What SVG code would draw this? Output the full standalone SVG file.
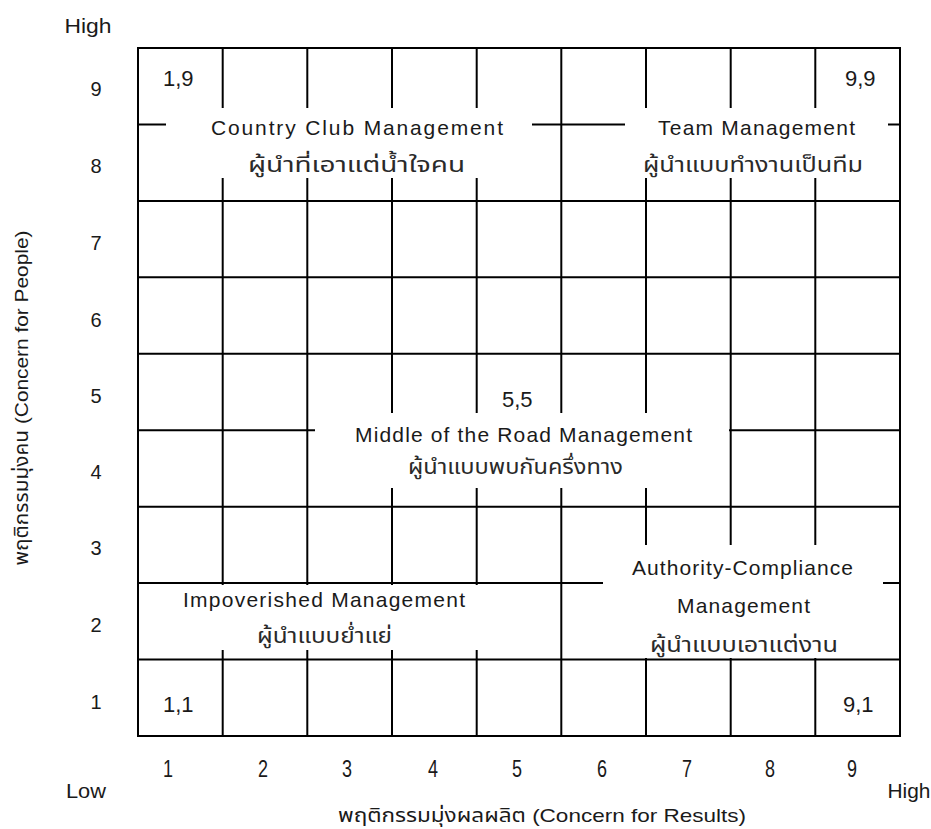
<svg xmlns="http://www.w3.org/2000/svg" width="931" height="829" viewBox="0 0 931 829">
<style>
.grid line{stroke:#000;stroke-width:2}
.box{fill:#fff;stroke:none}
text{font-family:"Liberation Sans","Noto Sans Thai","DejaVu Sans",sans-serif;fill:#1a1a1a}
.lbl{font-size:21px}
.th{font-size:21px;fill:#2a2a2a}
.corner{font-size:22px}
.ax{font-size:20px;text-anchor:middle}
.xn{font-size:23px}
</style>
<rect width="931" height="829" fill="#fff"/>
<g id="grid" class="grid">
<line x1="222.7" y1="48" x2="222.7" y2="736"/>
<line x1="307.3" y1="48" x2="307.3" y2="736"/>
<line x1="392" y1="48" x2="392" y2="736"/>
<line x1="476.7" y1="48" x2="476.7" y2="736"/>
<line x1="561.3" y1="48" x2="561.3" y2="736"/>
<line x1="646" y1="48" x2="646" y2="736"/>
<line x1="730.7" y1="48" x2="730.7" y2="736"/>
<line x1="815.3" y1="48" x2="815.3" y2="736"/>
<line x1="138" y1="124.4" x2="900" y2="124.4"/>
<line x1="138" y1="200.9" x2="900" y2="200.9"/>
<line x1="138" y1="277.3" x2="900" y2="277.3"/>
<line x1="138" y1="353.8" x2="900" y2="353.8"/>
<line x1="138" y1="430.2" x2="900" y2="430.2"/>
<line x1="138" y1="506.7" x2="900" y2="506.7"/>
<line x1="138" y1="583.1" x2="900" y2="583.1"/>
<line x1="138" y1="659.6" x2="900" y2="659.6"/>
</g>
<g id="country-club">
<rect class="box" x="166" y="108" width="366" height="70"/>
<text class="lbl" x="211" y="135" textLength="292" lengthAdjust="spacing">Country Club Management</text>
<text class="th" x="248" y="172" textLength="217" lengthAdjust="spacingAndGlyphs">ผู้นำที่เอาแต่น้ำใจคน</text>
</g>
<g id="team">
<rect class="box" x="625" y="108" width="263" height="70"/>
<text class="lbl" x="658" y="135" textLength="197" lengthAdjust="spacing">Team Management</text>
<text class="th" x="643" y="172" textLength="220" lengthAdjust="spacingAndGlyphs">ผู้นำแบบทำงานเป็นทีม</text>
</g>
<g id="middle">
<rect class="box" x="315" y="413" width="414" height="75"/>
<text class="lbl" x="355" y="442" textLength="337" lengthAdjust="spacing">Middle of the Road Management</text>
<text class="th" x="408" y="474" textLength="215" lengthAdjust="spacingAndGlyphs">ผู้นำแบบพบกันครึ่งทาง</text>
</g>
<g id="impoverished">
<rect class="box" x="140" y="585" width="416" height="65"/>
<text class="lbl" x="183" y="607" textLength="282" lengthAdjust="spacing">Impoverished Management</text>
<text class="th" x="257" y="643" textLength="135" lengthAdjust="spacingAndGlyphs">ผู้นำแบบย่ำแย่</text>
</g>
<g id="authority">
<rect class="box" x="603" y="545" width="280" height="113"/>
<text class="lbl" x="632" y="575" textLength="221" lengthAdjust="spacing">Authority-Compliance</text>
<text class="lbl" x="677" y="613" textLength="133" lengthAdjust="spacing">Management</text>
<text class="th" x="650" y="652" textLength="188" lengthAdjust="spacingAndGlyphs">ผู้นำแบบเอาแต่งาน</text>
</g>
<rect id="border" x="138" y="48" width="762" height="688" fill="none" stroke="#000" stroke-width="2"/>
<g id="corners" class="corner">
<text x="163" y="86">1,9</text>
<text x="845" y="86">9,9</text>
<text x="502" y="407">5,5</text>
<text x="163" y="712">1,1</text>
<text x="843" y="712">9,1</text>
</g>
<g id="y-axis" class="ax">
<text x="88" y="33" textLength="47" lengthAdjust="spacingAndGlyphs">High</text>
<text x="96" y="96">9</text>
<text x="96" y="173">8</text>
<text x="96" y="250">7</text>
<text x="96" y="327">6</text>
<text x="96" y="403">5</text>
<text x="96" y="479">4</text>
<text x="96" y="555">3</text>
<text x="96" y="632">2</text>
<text x="96" y="709">1</text>
<text transform="translate(28,398) rotate(-90)" textLength="335" lengthAdjust="spacingAndGlyphs" style="font-size:19px">พฤติกรรมมุ่งคน (Concern for People)</text>
</g>
<g id="x-axis" class="ax">
<text class="xn" x="168" y="777" textLength="10" lengthAdjust="spacingAndGlyphs">1</text>
<text class="xn" x="263" y="777" textLength="10" lengthAdjust="spacingAndGlyphs">2</text>
<text class="xn" x="347" y="777" textLength="10" lengthAdjust="spacingAndGlyphs">3</text>
<text class="xn" x="433" y="777" textLength="10" lengthAdjust="spacingAndGlyphs">4</text>
<text class="xn" x="517" y="777" textLength="10" lengthAdjust="spacingAndGlyphs">5</text>
<text class="xn" x="602" y="777" textLength="10" lengthAdjust="spacingAndGlyphs">6</text>
<text class="xn" x="687" y="777" textLength="10" lengthAdjust="spacingAndGlyphs">7</text>
<text class="xn" x="770" y="777" textLength="10" lengthAdjust="spacingAndGlyphs">8</text>
<text class="xn" x="852" y="777" textLength="10" lengthAdjust="spacingAndGlyphs">9</text>
<text x="86" y="798" textLength="40" lengthAdjust="spacingAndGlyphs" style="font-size:21px">Low</text>
<text x="909" y="798" textLength="43" lengthAdjust="spacingAndGlyphs" style="font-size:21px">High</text>
<text x="542" y="822" textLength="408" lengthAdjust="spacingAndGlyphs" style="font-size:19px">พฤติกรรมมุ่งผลผลิต (Concern for Results)</text>
</g>
</svg>
